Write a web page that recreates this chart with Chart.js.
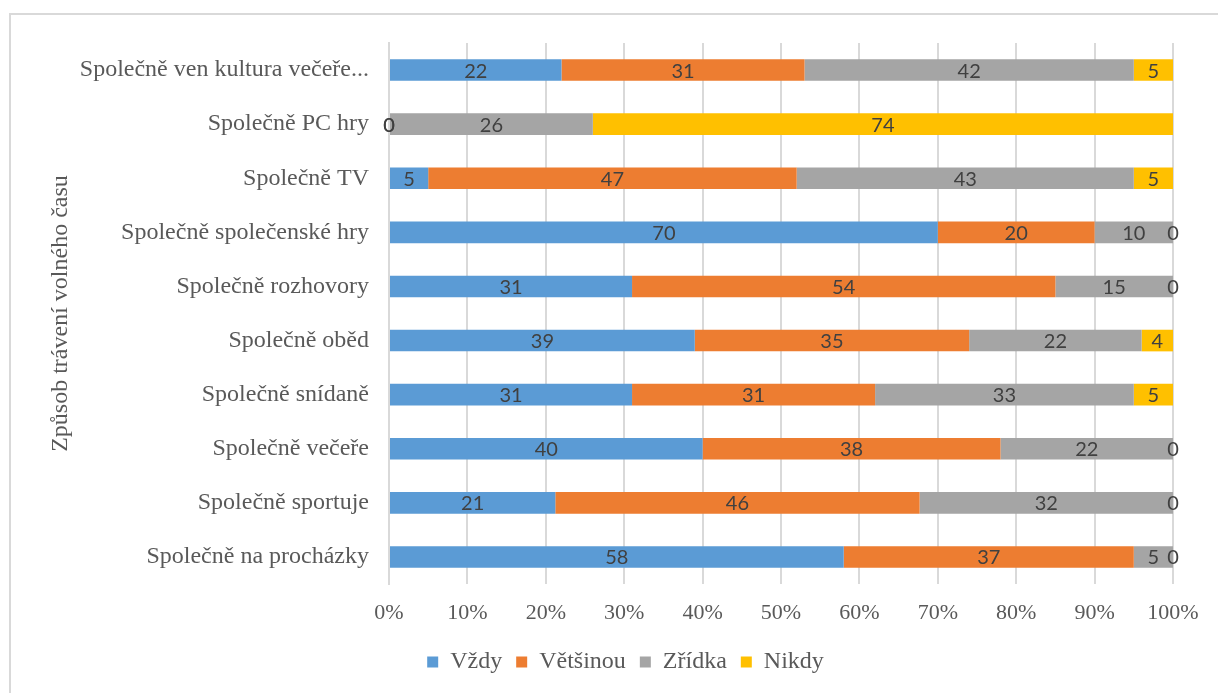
<!DOCTYPE html>
<html>
<head>
<meta charset="utf-8">
<script src="https://cdn.jsdelivr.net/npm/chart.js@4/dist/chart.umd.min.js"></script>
<style>
  html, body { margin: 0; padding: 0; background: #fff; }
  #wrap { position: relative; width: 1218px; height: 693px; }
</style>
</head>
<body>
<div id="wrap"><canvas id="c" width="1218" height="693"></canvas></div>
<script>
// Categories, top to bottom
const categories = [
  'Společně ven kultura večeře...',
  'Společně PC hry',
  'Společně TV',
  'Společně společenské hry',
  'Společně rozhovory',
  'Společně oběd',
  'Společně snídaně',
  'Společně večeře',
  'Společně sportuje',
  'Společně na procházky'
];

// Answer counts per category
const vzdy      = [22, 0,  5, 70, 31, 39, 31, 40, 21, 58];
const vetsinou  = [31, 0, 47, 20, 54, 35, 31, 38, 46, 37];
const zridka    = [42, 26, 43, 10, 15, 22, 33, 22, 32, 5];
const nikdy     = [5, 74,  5,  0,  0,  4,  5,  0,  0,  0];

const seriesNames  = ['Vždy', 'Většinou', 'Zřídka', 'Nikdy'];
const seriesColors = ['#5B9BD5', '#ED7D31', '#A5A5A5', '#FFC000'];
const seriesValues = [vzdy, vetsinou, zridka, nikdy];

const xTickLabels = ['0%','10%','20%','30%','40%','50%','60%','70%','80%','90%','100%'];

// Row totals for the 100 % stacking
const totals = categories.map((_, i) => seriesValues.reduce((s, arr) => s + arr[i], 0));

const datasets = seriesValues.map((vals, k) => ({
  label: seriesNames[k],
  data: vals.map((v, i) => v / totals[i] * 100),
  raw: vals,
  backgroundColor: seriesColors[k],
  borderWidth: 0,
  barPercentage: 0.8,
  categoryPercentage: 0.5
}));

const serif = '"Liberation Serif", "Times New Roman", serif';

// Value labels centred on each segment
const valueLabels = {
  id: 'valueLabels',
  afterDatasetsDraw(chart) {
    const ctx = chart.ctx;
    ctx.save();
    ctx.font = '20px Lato, "Liberation Sans", sans-serif';
    ctx.fillStyle = '#404040';
    ctx.textAlign = 'center';
    ctx.textBaseline = 'middle';
    chart.data.datasets.forEach((ds, k) => {
      const meta = chart.getDatasetMeta(k);
      meta.data.forEach((bar, i) => {
        const x = (bar.x + bar.base) / 2;
        ctx.fillText(String(ds.raw[i]), x, bar.y + 1);
      });
    });
    ctx.restore();
  }
};

// Light frame around the chart, legend nudged under the plot centre
const frame = {
  id: 'frame',
  afterLayout(chart) {
    chart.legend.left += 16;
    chart.legend.right += 16;
  },
  beforeDraw(chart) {
    const ctx = chart.ctx;
    ctx.save();
    ctx.strokeStyle = '#D9D9D9';
    ctx.lineWidth = 2;
    ctx.strokeRect(10, 14, 1230, 700);
    ctx.restore();
  }
};

new Chart(document.getElementById('c'), {
  type: 'bar',
  data: { labels: categories, datasets },
  plugins: [frame, valueLabels],
  options: {
    indexAxis: 'y',
    responsive: false,
    animation: false,
    layout: { padding: { left: 46, right: 45, top: 43, bottom: 9 } },
    scales: {
      x: {
        stacked: true,
        min: 0,
        max: 100,
        grid: { color: '#D9D9D9', lineWidth: 2, drawTicks: false },
        border: { display: false },
        ticks: {
          stepSize: 10,
          padding: 16,
          color: '#595959',
          font: { family: serif, size: 22 },
          callback: (v, i) => xTickLabels[i]
        },
        afterFit(scale) { scale.height = 52; }
      },
      y: {
        stacked: true,
        grid: { display: false, drawTicks: false },
        border: { display: true, color: '#D9D9D9', width: 2 },
        ticks: {
          padding: 20,
          color: '#595959',
          font: { family: serif, size: 24 }
        },
        title: {
          display: true,
          text: 'Způsob trávení volného času',
          color: '#595959',
          font: { family: serif, size: 24 },
          padding: { top: 0, bottom: 0 }
        },
        afterFit(scale) { scale.width = 343; }
      }
    },
    plugins: {
      legend: {
        position: 'bottom',
        labels: {
          boxWidth: 11,
          boxHeight: 11,
          padding: 14,
          color: '#595959',
          font: { family: serif, size: 24 }
        }
      },
      tooltip: { enabled: false }
    }
  }
});
</script>
</body>
</html>
